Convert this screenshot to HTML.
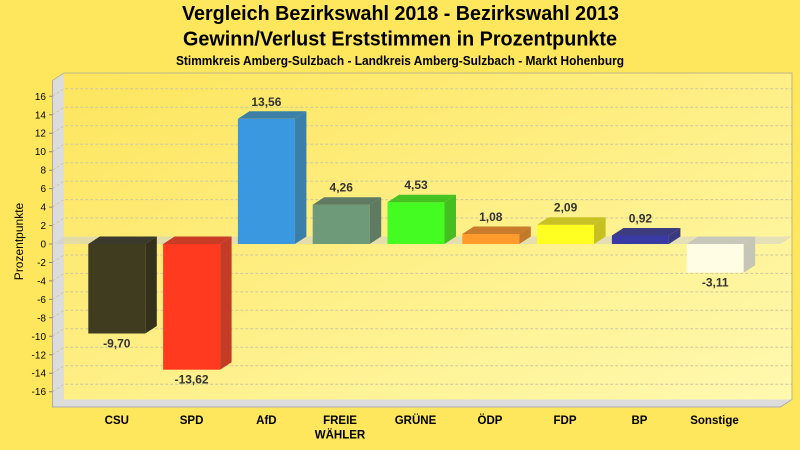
<!DOCTYPE html>
<html><head><meta charset="utf-8"><style>
html,body{margin:0;padding:0;background:#fee75c;}
svg{display:block;}
text{font-family:"Liberation Sans",Arial,sans-serif;}
</style></head><body>
<svg width="800" height="450" viewBox="0 0 800 450" xmlns="http://www.w3.org/2000/svg">
<defs>
<linearGradient id="wall" x1="0" y1="0" x2="1" y2="1">
<stop offset="0" stop-color="#fde55c"/>
<stop offset="1" stop-color="#fff9b0"/>
</linearGradient>
</defs>
<rect width="800" height="450" fill="#fee75c"/>
<!-- titles -->
<text x="400.5" y="20" text-anchor="middle" font-size="20" font-weight="bold" fill="#000" textLength="437" lengthAdjust="spacingAndGlyphs">Vergleich Bezirkswahl 2018 - Bezirkswahl 2013</text>
<text x="400" y="45.5" text-anchor="middle" font-size="20" font-weight="bold" fill="#000" textLength="434" lengthAdjust="spacingAndGlyphs">Gewinn/Verlust Erststimmen in Prozentpunkte</text>
<text x="400" y="65" text-anchor="middle" font-size="12.5" font-weight="bold" fill="#000" textLength="448" lengthAdjust="spacingAndGlyphs">Stimmkreis Amberg-Sulzbach - Landkreis Amberg-Sulzbach - Markt Hohenburg</text>

<!-- back wall -->
<rect x="64" y="73" width="728" height="326.5" fill="url(#wall)"/>
<!-- side wall -->
<polygon points="52.5,80.5 64,73 64,399.5 52.5,407" fill="#dcdcdc"/>
<!-- floor -->
<polygon points="52.5,407 64,399.5 792,399.5 780.5,407" fill="#dcdcdc"/>

<!-- gridlines -->
<g stroke="#cfc8a0" stroke-width="1" stroke-dasharray="3,2" fill="none">
<path d="M52.5,96.3L64,88.8H792"/>
<path d="M52.5,114.8L64,107.3H792"/>
<path d="M52.5,133.2L64,125.7H792"/>
<path d="M52.5,151.7L64,144.2H792"/>
<path d="M52.5,170.2L64,162.7H792"/>
<path d="M52.5,188.6L64,181.1H792"/>
<path d="M52.5,207.1L64,199.6H792"/>
<path d="M52.5,225.5L64,218H792"/>
<path d="M52.5,262.5L64,255H792"/>
<path d="M52.5,280.9L64,273.4H792"/>
<path d="M52.5,299.4L64,291.9H792"/>
<path d="M52.5,317.8L64,310.3H792"/>
<path d="M52.5,336.3L64,328.8H792"/>
<path d="M52.5,354.8L64,347.3H792"/>
<path d="M52.5,373.2L64,365.7H792"/>
<path d="M52.5,391.7L64,384.2H792"/>
</g>

<!-- wall borders -->
<g fill="none" stroke-width="1">
<path d="M52.5,80.5L64,73H792V399.5" stroke="#bdb58c"/>
<path d="M52.5,80.5V407H780.5L792,399.5" stroke="#acacac"/>
</g>

<!-- zero band -->
<polygon points="52.5,244 780.5,244 792,236.5 64,236.5" fill="#cfcfcf" fill-opacity="0.55"/>

<!-- ticks -->
<g stroke="#888" stroke-width="1">
<path d="M49,96.3H52.5M49,114.8H52.5M49,133.2H52.5M49,151.7H52.5M49,170.2H52.5M49,188.6H52.5M49,207.1H52.5M49,225.5H52.5M49,244H52.5M49,262.5H52.5M49,280.9H52.5M49,299.4H52.5M49,317.8H52.5M49,336.3H52.5M49,354.8H52.5M49,373.2H52.5M49,391.7H52.5"/>
</g>
<g font-size="10" fill="#000" text-anchor="end">
<text x="46" y="99.8">16</text>
<text x="46" y="118.3">14</text>
<text x="46" y="136.7">12</text>
<text x="46" y="155.2">10</text>
<text x="46" y="173.7">8</text>
<text x="46" y="192.1">6</text>
<text x="46" y="210.6">4</text>
<text x="46" y="229">2</text>
<text x="46" y="247.5">0</text>
<text x="46" y="266">-2</text>
<text x="46" y="284.4">-4</text>
<text x="46" y="302.9">-6</text>
<text x="46" y="321.3">-8</text>
<text x="46" y="339.8">-10</text>
<text x="46" y="358.3">-12</text>
<text x="46" y="376.7">-14</text>
<text x="46" y="395.2">-16</text>
</g>
<text transform="translate(23,241.5) rotate(-90)" text-anchor="middle" font-size="12" fill="#000">Prozentpunkte</text>

<!-- bars -->
<!-- CSU -9.70 -->
<g>
<rect x="88.3" y="244" width="57" height="89.5" fill="#403c20"/>
<polygon points="88.3,244 145.3,244 156.8,236.5 99.8,236.5" fill="#3b3a2c"/>
<polygon points="145.3,244 156.8,236.5 156.8,326 145.3,333.5" fill="#34311b"/>
</g>
<!-- SPD -13.62 -->
<g>
<rect x="163.1" y="244" width="57" height="125.7" fill="#ff3a1f"/>
<polygon points="163.1,244 220.1,244 231.6,236.5 174.6,236.5" fill="#c83c28"/>
<polygon points="220.1,244 231.6,236.5 231.6,362.2 220.1,369.7" fill="#c43c26"/>
</g>
<!-- AfD 13.56 -->
<g>
<rect x="237.9" y="118.8" width="57" height="125.2" fill="#3a98e0"/>
<polygon points="237.9,118.8 294.9,118.8 306.4,111.3 249.4,111.3" fill="#3c80a8"/>
<polygon points="294.9,118.8 306.4,111.3 306.4,236.5 294.9,244" fill="#3a7eaa"/>
</g>
<!-- FREIE 4.26 -->
<g>
<rect x="312.7" y="204.7" width="57" height="39.3" fill="#6e9a7a"/>
<polygon points="312.7,204.7 369.7,204.7 381.2,197.2 324.2,197.2" fill="#5e7a62"/>
<polygon points="369.7,204.7 381.2,197.2 381.2,236.5 369.7,244" fill="#5e7a60"/>
</g>
<!-- GRÜNE 4.53 -->
<g>
<rect x="387.5" y="202.2" width="57" height="41.8" fill="#44fc22"/>
<polygon points="387.5,202.2 444.5,202.2 456,194.7 399,194.7" fill="#46c222"/>
<polygon points="444.5,202.2 456,194.7 456,236.5 444.5,244" fill="#44be20"/>
</g>
<!-- ÖDP 1.08 -->
<g>
<rect x="462.3" y="234" width="57" height="10" fill="#ff9a2c"/>
<polygon points="462.3,234 519.3,234 530.8,226.5 473.8,226.5" fill="#c87c2c"/>
<polygon points="519.3,234 530.8,226.5 530.8,236.5 519.3,244" fill="#c4782a"/>
</g>
<!-- FDP 2.09 -->
<g>
<rect x="537.1" y="224.7" width="57" height="19.3" fill="#ffff22"/>
<polygon points="537.1,224.7 594.1,224.7 605.6,217.2 548.6,217.2" fill="#c8c224"/>
<polygon points="594.1,224.7 605.6,217.2 605.6,236.5 594.1,244" fill="#c6c020"/>
</g>
<!-- BP 0.92 -->
<g>
<rect x="611.9" y="235.5" width="57" height="8.5" fill="#3a3aa4"/>
<polygon points="611.9,235.5 668.9,235.5 680.4,228 623.4,228" fill="#3e3c80"/>
<polygon points="668.9,235.5 680.4,228 680.4,236.5 668.9,244" fill="#3a3a82"/>
</g>
<!-- Sonstige -3.11 -->
<g>
<rect x="686.7" y="244" width="57" height="28.7" fill="#fffde4"/>
<polygon points="686.7,244 743.7,244 755.2,236.5 698.2,236.5" fill="#c8c8ba"/>
<polygon points="743.7,244 755.2,236.5 755.2,265.2 743.7,272.7" fill="#c6c6b6"/>
</g>

<!-- value labels -->
<g font-size="12" font-weight="bold" fill="#333" text-anchor="middle">
<text x="116.8" y="347.5">-9,70</text>
<text x="191.6" y="383.7">-13,62</text>
<text x="266.4" y="105.8">13,56</text>
<text x="341.2" y="191.7">4,26</text>
<text x="416" y="189.2">4,53</text>
<text x="490.8" y="221">1,08</text>
<text x="565.6" y="211.7">2,09</text>
<text x="640.4" y="222.5">0,92</text>
<text x="715.2" y="286.7">-3,11</text>
</g>

<!-- category labels -->
<g font-size="11.5" font-weight="bold" fill="#000" text-anchor="middle">
<text x="116.8" y="424">CSU</text>
<text x="191.6" y="424">SPD</text>
<text x="266.4" y="424">AfD</text>
<text x="340" y="424">FREIE</text>
<text x="340" y="438.3">WÄHLER</text>
<text x="415.5" y="424">GRÜNE</text>
<text x="490" y="424">ÖDP</text>
<text x="565" y="424">FDP</text>
<text x="639.5" y="424">BP</text>
<text x="714.5" y="424">Sonstige</text>
</g>
</svg>
</body></html>
